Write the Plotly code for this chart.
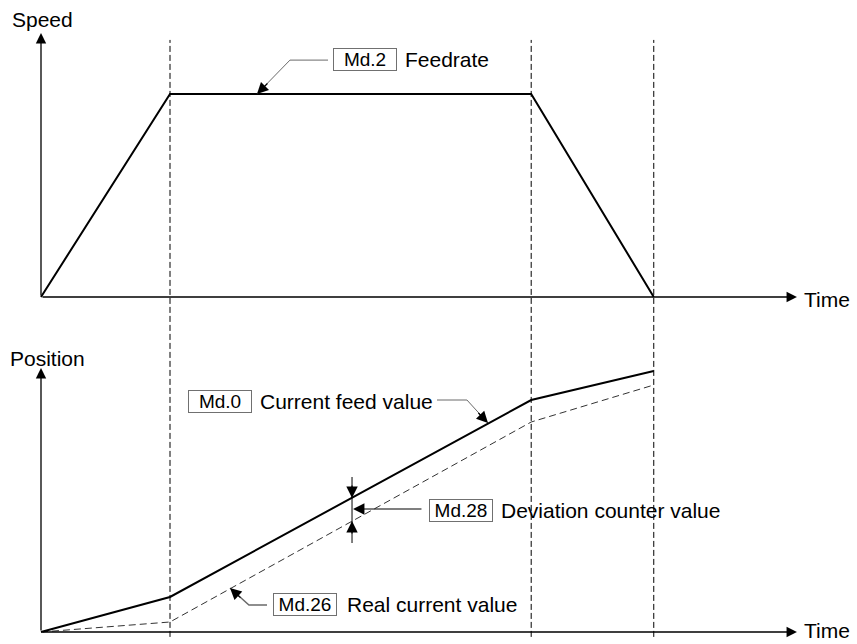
import plotly.graph_objects as go

# Phase change instants: end of acceleration, start of deceleration, stop
times = [0, 1.0, 3.8, 4.75]
speed = [0, 1, 1, 0]
# Position curves (commanded feed value and real/actual value)
feed_pos = [0, 35, 232, 261]
real_pos = [0, 10, 210, 247]

label_font = dict(family="Liberation Sans, Arial, sans-serif", size=21, color="black")
box_font = dict(family="Liberation Sans, Arial, sans-serif", size=19, color="black")
leader_gray = "#6a6a6a"

fig = go.Figure()

# Speed profile (top)
fig.add_trace(go.Scatter(x=times, y=speed, mode="lines", xaxis="x", yaxis="y",
                         line=dict(color="black", width=2), cliponaxis=False,
                         showlegend=False, hoverinfo="skip"))

# Position profiles (bottom)
fig.add_trace(go.Scatter(x=times, y=real_pos, mode="lines", xaxis="x2", yaxis="y2",
                         line=dict(color="#333333", width=1, dash="7px,4px"), cliponaxis=False,
                         showlegend=False, hoverinfo="skip"))
fig.add_trace(go.Scatter(x=times, y=feed_pos, mode="lines", xaxis="x2", yaxis="y2",
                         line=dict(color="black", width=2), cliponaxis=False,
                         showlegend=False, hoverinfo="skip"))

shapes = []
# dashed guides through both charts at the phase change points
for t in times[1:]:
    shapes.append(dict(type="line", xref="x", yref="paper", x0=t, x1=t, y0=0.011, y1=0.938,
                       line=dict(color="black", width=1, dash="6px,3px")))

# leader lines (gray polylines)
shapes.append(dict(type="path", xref="x", yref="y", path="M 2.225 1.167 L 1.930 1.167 L 1.674 1.0",
                   line=dict(color=leader_gray, width=1)))
shapes.append(dict(type="path", xref="x2", yref="y2", path="M 3.070 232 L 3.302 232 L 3.465 209",
                   line=dict(color=leader_gray, width=1)))
shapes.append(dict(type="path", xref="x2", yref="y2", path="M 1.752 27 L 1.612 27 L 1.465 44",
                   line=dict(color=leader_gray, width=1.5)))
# deviation marker vertical line
shapes.append(dict(type="line", xref="x2", yref="y2", x0=2.411, x1=2.411, y0=89, y1=155,
                   line=dict(color="black", width=1)))

annotations = []


def axis_arrow(xr, yr, x, y, ax, ay):
    annotations.append(dict(xref=xr, yref=yr, axref=xr, ayref=yr, x=x, y=y, ax=ax, ay=ay,
                            text="", showarrow=True, arrowhead=2, arrowsize=1.6,
                            arrowwidth=1.3, arrowcolor="black"))


def head(xr, yr, x, y, ax, ay):
    annotations.append(dict(xref=xr, yref=yr, x=x, y=y, ax=ax, ay=ay, text="",
                            showarrow=True, arrowhead=2, arrowsize=1.9, arrowwidth=1.2,
                            arrowcolor="black"))


def text(xr, yr, x, y, s, anchor="left", vanchor="middle"):
    annotations.append(dict(xref=xr, yref=yr, x=x, y=y, text=s, showarrow=False,
                            xanchor=anchor, yanchor=vanchor, font=label_font))


def box(xr, yr, x, y, s):
    annotations.append(dict(xref=xr, yref=yr, x=x, y=y, text=s, showarrow=False,
                            xanchor="center", yanchor="middle", font=box_font,
                            width=62, height=21, borderpad=0, bordercolor="#707070",
                            borderwidth=1, bgcolor="white"))


# axes with arrowheads
axis_arrow("x", "y", 0, 1.30, 0, 0)
axis_arrow("x", "y", 5.86, 0, 0, 0)
axis_arrow("x2", "y2", 0, 264, 0, 0)
axis_arrow("x2", "y2", 5.86, 0, 0, 0)

text("x", "y", 0.008, 1.365, "Speed", "center")
text("x", "y", 5.90, -0.01, "Time")
text("x2", "y2", 0.054, 274, "Position", "center")
text("x2", "y2", 5.90, -12, "Time", vanchor="bottom")

# Md.2 Feedrate
box("x", "y", 2.508, 1.172, "Md.2")
text("x", "y", 2.806, 1.172, "Feedrate")
head("x", "y", 1.674, 1.0, 12, -12)

# Md.0 Current feed value
box("x2", "y2", 1.391, 231, "Md.0")
text("x2", "y2", 1.682, 231, "Current feed value")
head("x2", "y2", 3.465, 209, -11, -11.5)

# Md.28 Deviation counter value
box("x2", "y2", 3.252, 122, "Md.28")
text("x2", "y2", 3.550, 122, "Deviation counter value")
annotations.append(dict(xref="x2", yref="y2", axref="x2", ayref="y2", x=2.419, y=123,
                        ax=2.961, ay=123, text="", showarrow=True, arrowhead=2,
                        arrowsize=1.9, arrowwidth=1.2, arrowcolor="black"))
head("x2", "y2", 2.411, 134, 0, -14)
head("x2", "y2", 2.411, 111, 0, 14)

# Md.26 Real current value
box("x2", "y2", 2.050, 27.5, "Md.26")
text("x2", "y2", 2.357, 27.5, "Real current value")
head("x2", "y2", 1.465, 44, 12, 11)

hidden = dict(visible=False, showgrid=False, zeroline=False, fixedrange=True)
fig.update_layout(
    width=857, height=644,
    margin=dict(l=0, r=0, t=0, b=0),
    paper_bgcolor="white", plot_bgcolor="white",
    xaxis=dict(hidden, domain=[0, 1], range=[-0.3178, 6.3256], anchor="y"),
    yaxis=dict(hidden, domain=[0.5, 1], range=[-0.1232, 1.4631], anchor="x"),
    xaxis2=dict(hidden, domain=[0, 1], range=[-0.3178, 6.3256], anchor="y2"),
    yaxis2=dict(hidden, domain=[0, 0.5], range=[-12, 310], anchor="x2"),
    shapes=shapes,
    annotations=annotations,
    showlegend=False,
)

# the default page has an 8px body margin; drop it so the figure fills the window
fig.write_html("out.html", config={"displayModeBar": False},
               post_script="document.body.style.margin='0';")
